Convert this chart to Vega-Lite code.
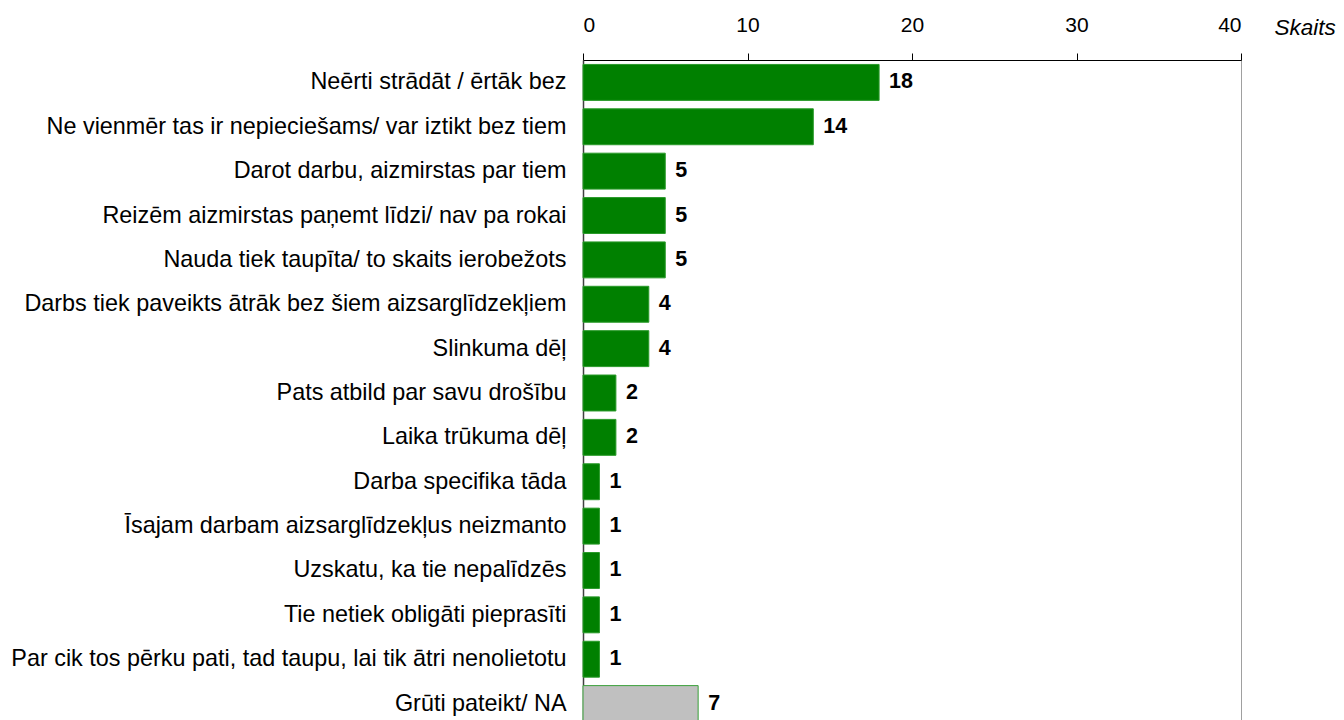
{
  "$schema": "https://vega.github.io/schema/vega-lite/v6.json",
  "autosize": {"type": "none"},
  "padding": {"left": 583, "top": 60, "right": 103, "bottom": 0},
  "width": 658,
  "height": 666,
  "background": "white",
  "config": {
    "font": "Liberation Sans",
    "view": {"stroke": "#a0a0a0", "strokeWidth": 1}
  },
  "data": {
    "values": [
      {"reason": "Neērti strādāt / ērtāk bez", "count": 18, "group": "a"},
      {"reason": "Ne vienmēr tas ir nepieciešams/ var iztikt bez tiem", "count": 14, "group": "a"},
      {"reason": "Darot darbu, aizmirstas par tiem", "count": 5, "group": "a"},
      {"reason": "Reizēm aizmirstas paņemt līdzi/ nav pa rokai", "count": 5, "group": "a"},
      {"reason": "Nauda tiek taupīta/ to skaits ierobežots", "count": 5, "group": "a"},
      {"reason": "Darbs tiek paveikts ātrāk bez šiem aizsarglīdzekļiem", "count": 4, "group": "a"},
      {"reason": "Slinkuma dēļ", "count": 4, "group": "a"},
      {"reason": "Pats atbild par savu drošību", "count": 2, "group": "a"},
      {"reason": "Laika trūkuma dēļ", "count": 2, "group": "a"},
      {"reason": "Darba specifika tāda", "count": 1, "group": "a"},
      {"reason": "Īsajam darbam aizsarglīdzekļus neizmanto", "count": 1, "group": "a"},
      {"reason": "Uzskatu, ka tie nepalīdzēs", "count": 1, "group": "a"},
      {"reason": "Tie netiek obligāti pieprasīti", "count": 1, "group": "a"},
      {"reason": "Par cik tos pērku pati, tad taupu, lai tik ātri nenolietotu", "count": 1, "group": "a"},
      {"reason": "Grūti pateikt/ NA", "count": 7, "group": "b"}
    ]
  },
  "encoding": {
    "y": {
      "field": "reason",
      "type": "nominal",
      "sort": null,
      "scale": {"paddingInner": 0.19, "paddingOuter": 0.1},
      "axis": {
        "title": null,
        "labelFontSize": 23.4,
        "labelColor": "black",
        "labelPadding": 17,
        "labelLimit": 600,
        "ticks": false,
        "domainColor": "#404040",
        "domainWidth": 1.5
      }
    },
    "x": {
      "field": "count",
      "type": "quantitative",
      "scale": {"domain": [0, 40]},
      "axis": {
        "orient": "top",
        "values": [0, 10, 20, 30, 40],
        "grid": false,
        "labelFontSize": 21,
        "labelColor": "black",
        "labelPadding": 18,
        "tickSize": 7,
        "tickColor": "black",
        "domainColor": "black",
        "title": "Skaits",
        "titleFontStyle": "italic",
        "titleFontWeight": "normal",
        "titleFontSize": 22.5,
        "titleColor": "black",
        "titleAngle": 0,
        "titleAlign": "left",
        "titleBaseline": "middle",
        "titleX": 691,
        "titleY": -33
      }
    }
  },
  "layer": [
    {
      "mark": {"type": "bar", "strokeWidth": 1},
      "encoding": {
        "color": {
          "field": "group",
          "type": "nominal",
          "scale": {"domain": ["a", "b"], "range": ["#008000", "#c0c0c0"]},
          "legend": null
        },
        "stroke": {
          "field": "group",
          "type": "nominal",
          "scale": {"domain": ["a", "b"], "range": ["#2a9a2a", "#3aa03a"]},
          "legend": null
        }
      }
    },
    {
      "mark": {"type": "text", "align": "left", "dx": 10, "fontSize": 21.5, "fontWeight": "bold", "color": "black"},
      "encoding": {"text": {"field": "count", "type": "quantitative"}}
    }
  ]
}
